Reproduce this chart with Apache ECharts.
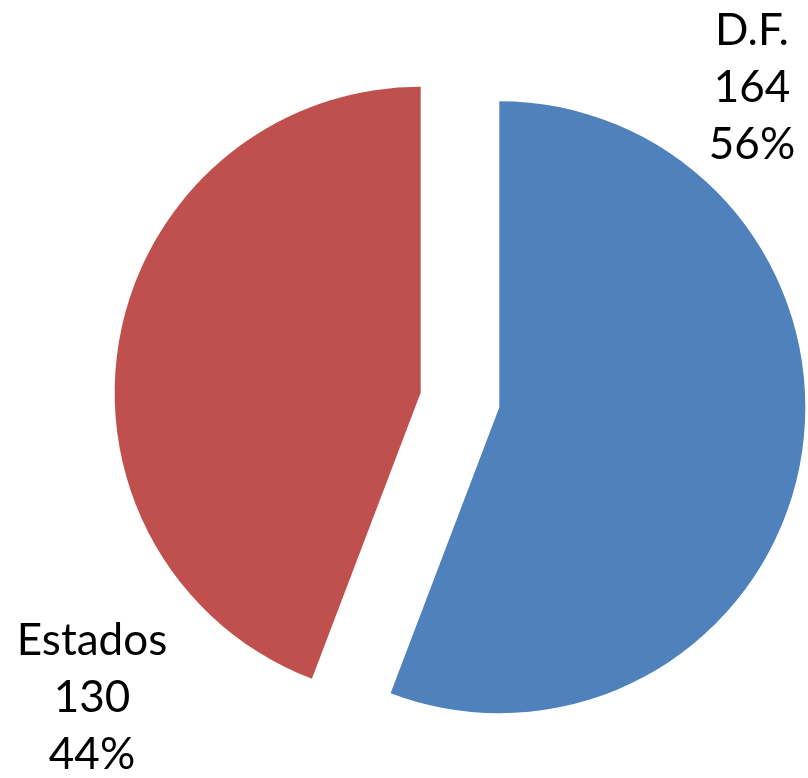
<!DOCTYPE html>
<html>
<head>
<meta charset="utf-8">
<script src="https://cdn.jsdelivr.net/npm/echarts@6/dist/echarts.min.js"></script>
<style>
  html, body { margin: 0; padding: 0; background: #fff; }
  #chart { width: 808px; height: 778px; }
</style>
</head>
<body>
<div id="chart"></div>
<script>
const categories = ['D.F.', 'Estados']
const values = [164, 130]
const colors = ['#4F81BD', '#C0504D']
// centre of each label block (middle line)
const labelPos = [[752, 88], [92, 698]]

const chart = echarts.init(document.getElementById('chart'))

const total = values.reduce((a, b) => a + b, 0)

// labels drawn as text blocks next to the slices
const labels = categories.map((name, i) => ({
  type: 'text',
  x: labelPos[i][0],
  y: labelPos[i][1],
  style: {
    text: name + '\n' + values[i] + '\n' + Math.round(values[i] / total * 100) + '%',
    fontFamily: 'Lato',
    fontSize: 44,
    lineHeight: 57,
    fill: '#000',
    align: 'center',
    verticalAlign: 'middle'
  }
}))

const option = {
  animation: false,
  graphic: labels,
  series: [
    {
      type: 'pie',
      center: [460, 400],
      radius: 306,
      startAngle: 90,
      clockwise: true,
      selectedMode: 'multiple',
      selectedOffset: 40,
      data: categories.map((name, i) => ({
        name: name,
        value: values[i],
        selected: true,
        itemStyle: { color: colors[i] }
      })),
      label: { show: false },
      labelLine: { show: false },
      emphasis: { disabled: true }
    }
  ]
}

chart.setOption(option)
</script>
</body>
</html>
